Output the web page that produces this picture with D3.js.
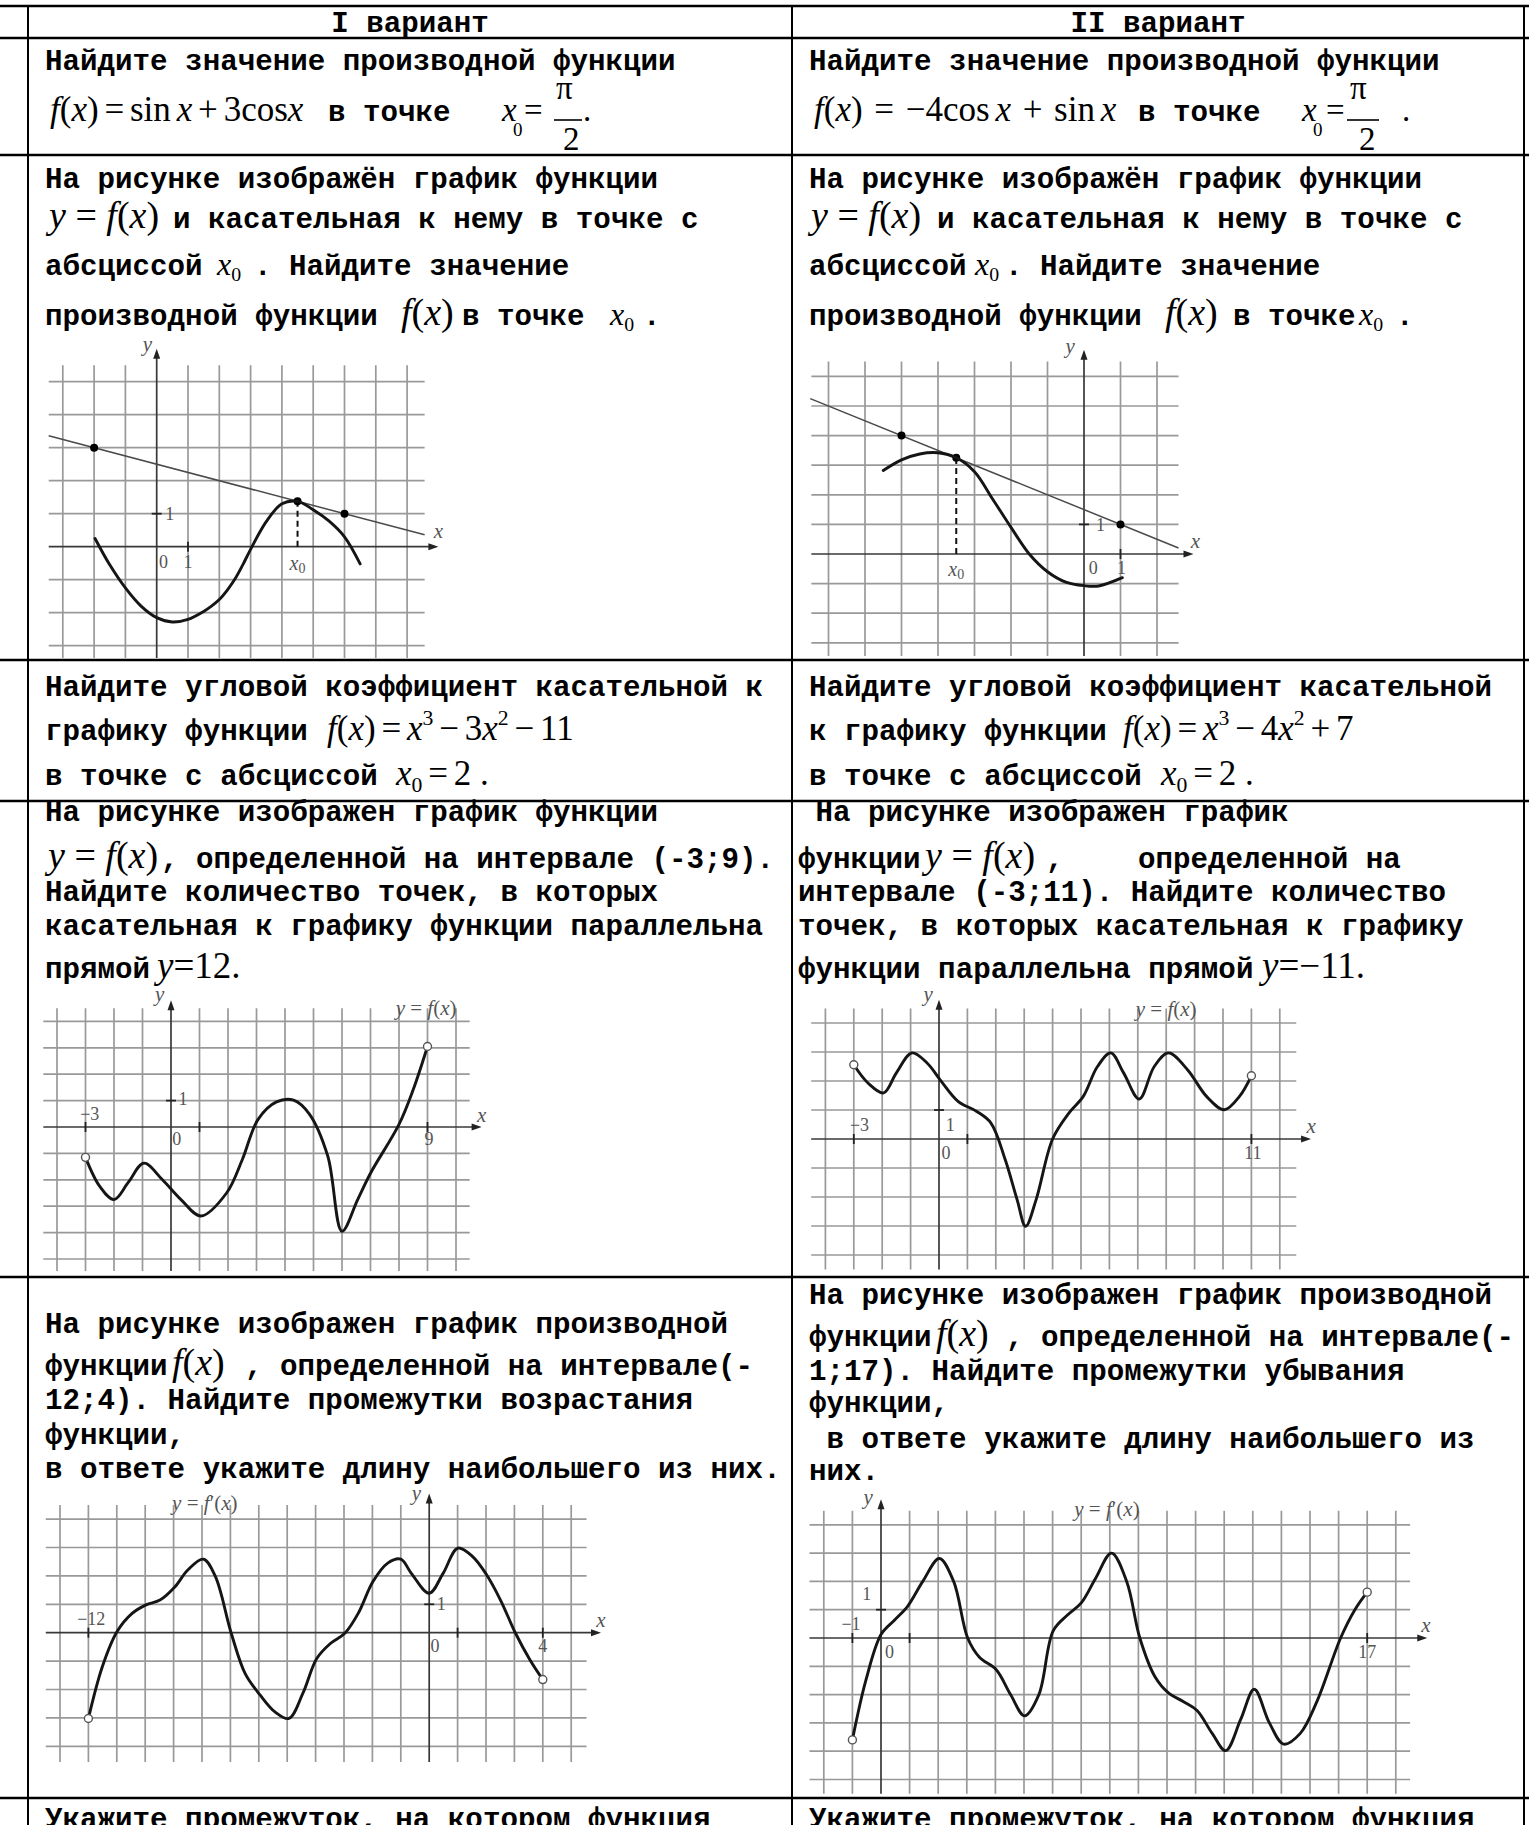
<!DOCTYPE html>
<html><head><meta charset="utf-8">
<script src="https://cdn.jsdelivr.net/npm/d3@7/dist/d3.min.js"></script>
<style>html,body{margin:0;padding:0;background:#fff;overflow:hidden}svg{display:block}</style>
</head><body>
<svg id="page" width="1529" height="1825" xmlns="http://www.w3.org/2000/svg"></svg>
<script>
// ================= DATA =================
const headers = ["I вариант", "II вариант"];

// Graph 1 (row 2, left): y = f(x) with tangent
const g1Curve = [[-1.97,0.25],[-1.5,-0.55],[-1,-1.25],[-0.5,-1.8],[0,-2.15],[0.5,-2.28],[1,-2.2],[1.5,-1.96],[1.75,-1.8],[2,-1.6],[2.25,-1.32],[2.5,-0.98],[2.75,-0.55],[3,-0.08],[3.5,0.76],[4,1.3],[4.5,1.375],[5,1.12],[5.5,0.78],[6,0.3],[6.5,-0.52]];
const g1TangentPts = [[-2,3],[6,1]];
const g1X0 = 4.5;
const g1Labels = [["y",-0.3,6.1],["x",9.0,0.45],["1",0.42,1.0],["0",0.22,-0.45],["1",1.0,-0.45],["x0",4.5,-0.48]];
const g1XTicks = [1], g1YTicks = [1];

// Graph 2 (row 2, right)
const g2Curve = [[-5.5,2.82],[-5,3.18],[-4.5,3.38],[-4,3.42],[-3.5,3.25],[-3,2.78],[-2.5,1.85],[-2,0.9],[-1.5,0.0],[-1,-0.6],[-0.5,-0.95],[0,-1.07],[0.4,-1.08],[1.05,-0.8]];
const g2TangentPts = [[-5,4],[1,1]];
const g2X0 = -3.5;
const g2Labels = [["y",-0.38,7.0],["x",3.05,0.42],["1",0.45,0.98],["0",0.25,-0.48],["1",1.03,-0.48],["x0",-3.5,-0.5]];
const g2XTicks = [1], g2YTicks = [1];

// Graph 3 (row 4, left): y = f(x) on (-3;9)
const g3Curve = [[-3,-1.15],[-2.5,-2.25],[-2,-2.75],[-1.5,-2.1],[-0.95,-1.37],[-0.3,-2.0],[0.35,-2.75],[1.05,-3.37],[1.95,-2.5],[2.5,-1.24],[3.05,0.28],[3.7,0.95],[4.3,1.02],[4.85,0.5],[5.5,-1.1],[6.0,-3.95],[6.55,-2.75],[7.0,-1.75],[8.0,0.1],[8.5,1.42],[9.0,3.05]];
const g3Open = [[-3,-1.15],[9,3.05]];
const g3Labels = [["y",-0.4,5.0],["x",10.9,0.42],["y = f(x)",8.95,4.5],["−3",-2.85,0.48],["0",0.2,-0.45],["9",9.05,-0.45],["1",0.42,1.05]];
const g3XTicks = [-3,1,9], g3YTicks = [1];

// Graph 4 (row 4, right): y = f(x) on (-3;11)
const g4Curve = [[-3,2.56],[-2.5,1.93],[-1.95,1.59],[-1.5,2.28],[-0.95,2.97],[-0.42,2.62],[0.08,1.99],[0.67,1.3],[1.33,0.95],[1.83,0.55],[2.33,-0.71],[2.75,-2.09],[3.05,-3.01],[3.42,-2.09],[4.0,0],[4.58,0.9],[5.08,1.47],[5.58,2.5],[6.05,2.97],[6.5,2.28],[7.05,1.38],[7.58,2.5],[8.08,2.97],[8.75,2.39],[9.42,1.47],[10.05,1.01],[10.58,1.47],[11,2.18]];
const g4Open = [[-3,2.56],[11,2.18]];
const g4Labels = [["y",-0.38,4.95],["x",13.1,0.42],["y = f(x)",8.0,4.5],["−3",-2.8,0.48],["1",0.4,0.48],["0",0.25,-0.48],["11",11.05,-0.48]];
const g4XTicks = [-3,1,11], g4YTicks = [1];

// Graph 5 (row 5, left): y = f'(x) on (-12;4)
const g5Curve = [[-12,-3.02],[-11.51,-1.2],[-10.99,0.04],[-10.46,0.68],[-9.97,0.98],[-9.48,1.15],[-8.95,1.62],[-8.5,2.21],[-7.95,2.59],[-7.53,1.98],[-6.97,-0.02],[-6.48,-1.44],[-5.95,-2.2],[-5.43,-2.79],[-4.94,-3.02],[-4.45,-2.14],[-3.96,-0.91],[-3.48,-0.38],[-2.97,-0.02],[-2.5,0.68],[-1.98,1.8],[-1.46,2.45],[-1.0,2.59],[-0.63,2.09],[0,1.39],[0.49,2.09],[1.01,2.98],[1.53,2.68],[2.02,2.04],[2.51,1.15],[3.04,-0.02],[3.55,-0.96],[4.0,-1.65]];
const g5Open = [[-12,-3.02],[4,-1.65]];
const g5Labels = [["y",-0.45,4.88],["x",6.05,0.42],["y = f′(x)",-7.9,4.55],["−12",-11.9,0.48],["0",0.2,-0.48],["4",4.0,-0.48],["1",0.42,1.0]];
const g5XTicks = [-12,1,4], g5YTicks = [1];

// Graph 6 (row 5, right): y = f'(x) on (-1;17)
const g6Curve = [[-1,-3.6],[-0.53,-1.5],[0,0.12],[0.46,0.62],[0.93,1.12],[1.46,2.0],[2.04,2.81],[2.54,2.0],[3.03,0],[3.45,-0.69],[4.03,-1.12],[4.53,-2.0],[5.02,-2.75],[5.52,-2.0],[6.02,0.25],[6.52,0.81],[7.01,1.25],[7.51,2.12],[8.06,3.0],[8.59,2.0],[9.05,0],[9.58,-1.37],[10.05,-1.94],[10.58,-2.25],[11.05,-2.56],[11.58,-3.37],[12.05,-3.98],[12.58,-2.87],[13.05,-1.81],[13.58,-3.0],[14.08,-3.75],[14.66,-3.37],[15.24,-2.25],[16.07,0],[16.57,1.0],[17,1.62]];
const g6Open = [[-1,-3.6],[17,1.62]];
const g6Labels = [["y",-0.45,4.95],["x",19.05,0.42],["y = f′(x)",7.9,4.55],["1",-0.5,1.55],["−1",-1.05,0.5],["0",0.3,-0.48],["17",17.0,-0.48]];
const g6XTicks = [-1,1,17], g6YTicks = [1];

// Formulas (text pieces: [text, style])  i = italic, ^ = superscript, _ = subscript
const T = "\u2006", S = " ", M3 = "\u2004";
const mR1L = [["f","i"],["(",""],["x","i"],[")",""],[T+"="+T,""],["sin",""],[T,""],["x","i"],[T+"+"+T,""],["3cos",""],["x","i"]];
const mR1R = [["f","i"],["(",""],["x","i"],[")",""],[M3+"="+M3,""],["−4cos",""],[T,""],["x","i"],[M3+"+"+M3,""],["sin",""],[T,""],["x","i"]];
const mYF  = [["y","i"],[S+"="+S,""],["f","i"],["(",""],["x","i"],[")",""]];
const mF   = [["f","i"],["(",""],["x","i"],[")",""]];
const mR3L = [["f","i"],["(",""],["x","i"],[")",""],[T+"="+T,""],["x","i"],["3","^"],[T+"−"+T,""],["3","" ],["x","i"],["2","^"],[T+"−"+T,""],["11",""]];
const mR3R = [["f","i"],["(",""],["x","i"],[")",""],[T+"="+T,""],["x","i"],["3","^"],[T+"−"+T,""],["4","" ],["x","i"],["2","^"],[T+"+"+T,""],["7",""]];
const mX0eq2 = [["x","i"],["0","_"],[T+"="+T,""],["2",""],[" .",""]];
const mY12  = [["y","i"],["=",""],["12",""],[".",""]];
const mYm11 = [["y","i"],["=",""],["−11",""],[".",""]];

// Text lines
const rowTexts = {
  r1: "Найдите значение производной функции",
  r1b: "в точке",
  r2a: "На рисунке изображён график функции",
  r2b: "и касательная к нему в точке с",
  r2c1: "абсциссой", r2c2: ". Найдите значение",
  r2d1: "производной функции", r2d2: "в точке", r2d3: ".",
  r3aL: "Найдите угловой коэффициент касательной к",
  r3aR: "Найдите угловой коэффициент касательной",
  r3bL: "графику функции", r3bR: "к графику функции",
  r3c: "в точке с абсциссой",
  r4L: ["На рисунке изображен график функции", ", определенной на интервале (-3;9).", "Найдите количество точек, в которых", "касательная к графику функции параллельна", "прямой"],
  r4R: [" На рисунке изображен график", "функции", ",", "определенной на", "интервале (-3;11). Найдите количество", "точек, в которых касательная к графику", "функции параллельна прямой"],
  r5L: ["На рисунке изображен график производной", "функции", ", определенной на интервале(-", "12;4). Найдите промежутки возрастания", "функции,", "в ответе укажите длину наибольшего из них."],
  r5R: ["На рисунке изображен график производной", "функции", ", определенной на интервале(-", "1;17). Найдите промежутки убывания", "функции,", " в ответе укажите длину наибольшего из", "них."],
  r6: "Укажите промежуток, на котором функция"
};

// ================= DRAWING =================
const svg = d3.select("#page");
const MONO = "'Liberation Mono','Courier New',monospace";
const SERIF = "'Liberation Serif','Times New Roman',serif";
const FS = 29.2, MS = 35, MB = 38;

function courier(x, y, s) {
  svg.append("text").attr("x", x).attr("y", y)
    .attr("font-family", MONO).attr("font-weight", "bold").attr("font-size", FS)
    .attr("fill", "#000").style("white-space", "pre").text(s);
}
function math(x, y, parts, size, parent, fill) {
  size = size || MS;
  const t = (parent || svg).append("text").attr("x", x).attr("y", y)
    .attr("font-family", SERIF).attr("font-size", size).attr("fill", fill || "#000")
    .style("white-space", "pre");
  let shift = 0;
  parts.forEach(([s, st]) => {
    let target = 0, fs = size;
    if (st.includes("^")) { target = -0.42 * size; fs = size * 0.62; }
    if (st.includes("_")) { target = 0.2 * size; fs = size * 0.62; }
    const ts = t.append("tspan").attr("font-size", fs)
      .attr("font-style", st.includes("i") ? "italic" : "normal").text(s);
    if (target !== shift) { ts.attr("dy", target - shift); shift = target; }
  });
  return t;
}
function xsub(x, y, size) {
  size = size || 32;
  math(x, y, [["x", "i"], ["0", "_"]], size);
}

// ---- table lines ----
const hLines = [6, 38, 155, 660, 801, 1277, 1798];
const vLines = [28, 792, 1524];
svg.append("g").selectAll("line").data(hLines).join("line")
  .attr("x1", 0).attr("x2", 1529).attr("y1", d => d).attr("y2", d => d)
  .attr("stroke", "#000").attr("stroke-width", 2.6);
svg.append("g").selectAll("line").data(vLines).join("line")
  .attr("x1", d => d).attr("x2", d => d).attr("y1", 5).attr("y2", 1825)
  .attr("stroke", "#000").attr("stroke-width", 2);

// ---- header ----
[410, 1158].forEach((cx, i) => {
  svg.append("text").attr("x", cx).attr("y", 32).attr("text-anchor", "middle")
    .attr("font-family", MONO).attr("font-weight", "bold").attr("font-size", FS).text(headers[i]);
});

// ---- row 1 ----
courier(45, 70, rowTexts.r1); courier(809, 70, rowTexts.r1);
math(50, 121, mR1L); courier(328, 121, rowTexts.r1b);
math(814, 121, mR1R); courier(1138, 121, rowTexts.r1b);
function fracPi(xx, xeq, xpi, xbar0, xbar1, x2, xdot) {
  math(xx, 121, [["x", "i"]], 33);
  math(xx + 11, 136, [["0", ""]], 19);
  math(xeq, 121, [["=", ""]], 33);
  math(xpi, 99, [["π", ""]], 33);
  svg.append("line").attr("x1", xbar0).attr("x2", xbar1).attr("y1", 120).attr("y2", 120)
    .attr("stroke", "#000").attr("stroke-width", 1.6);
  math(x2, 150, [["2", ""]], 33);
  math(xdot, 121, [[".", ""]], 33);
}
fracPi(502, 524, 556, 554, 582, 563, 583);
fracPi(1302, 1326, 1350, 1347, 1379, 1359, 1402);

// ---- row 2 ----
[[45, 49, 173, 217, 254, 401, 462, 610, 643], [809, 811, 937, 975, 1005, 1165, 1233, 1359, 1396]].forEach(p => {
  courier(p[0], 188, rowTexts.r2a);
  math(p[1], 228, mYF, MB); courier(p[2], 228, rowTexts.r2b);
  courier(p[0], 275, rowTexts.r2c1); xsub(p[3], 275); courier(p[4], 275, rowTexts.r2c2);
  courier(p[0], 325, rowTexts.r2d1); math(p[5], 325, mF, MB); courier(p[6], 325, rowTexts.r2d2);
  xsub(p[7], 325); courier(p[8], 325, rowTexts.r2d3);
});

// ---- row 3 ----
courier(45, 696, rowTexts.r3aL); courier(809, 696, rowTexts.r3aR);
courier(45, 740, rowTexts.r3bL); math(327, 740, mR3L);
courier(809, 740, rowTexts.r3bR); math(1123, 740, mR3R);
courier(45, 785, rowTexts.r3c); math(396, 785, mX0eq2);
courier(809, 785, rowTexts.r3c); math(1161, 785, mX0eq2);

// ---- row 4 ----
courier(45, 821, rowTexts.r4L[0]);
math(48, 868, mYF, MB); courier(161, 868, rowTexts.r4L[1]);
courier(45, 901, rowTexts.r4L[2]);
courier(45, 935, rowTexts.r4L[3]);
courier(45, 978, rowTexts.r4L[4]); math(157, 978, mY12, 37);
courier(798, 821, rowTexts.r4R[0]);
courier(798, 868, rowTexts.r4R[1]); math(925, 868, mYF, MB);
courier(1046, 868, rowTexts.r4R[2]); courier(1138, 868, rowTexts.r4R[3]);
courier(798, 901, rowTexts.r4R[4]);
courier(798, 935, rowTexts.r4R[5]);
courier(798, 978, rowTexts.r4R[6]); math(1262, 978, mYm11, 37);

// ---- row 5 ----
courier(45, 1333, rowTexts.r5L[0]);
courier(45, 1375, rowTexts.r5L[1]); math(172, 1375, mF, MB); courier(245, 1375, rowTexts.r5L[2]);
courier(45, 1409, rowTexts.r5L[3]);
courier(45, 1444, rowTexts.r5L[4]);
courier(45, 1478, rowTexts.r5L[5]);
courier(809, 1304, rowTexts.r5R[0]);
courier(809, 1346, rowTexts.r5R[1]); math(936, 1346, mF, MB); courier(1006, 1346, rowTexts.r5R[2]);
courier(809, 1380, rowTexts.r5R[3]);
courier(809, 1412, rowTexts.r5R[4]);
courier(809, 1448, rowTexts.r5R[5]);
courier(809, 1480, rowTexts.r5R[6]);

// ---- row 6 ----
courier(45, 1828, rowTexts.r6); courier(809, 1828, rowTexts.r6);

// ================= GRAPHS =================
const GRID = "#999", AXIS = "#383838", LBL = "#555";

function drawGraph(cfg, d) {
  const g = svg.append("g");
  const x = d3.scaleLinear().domain([0, 1]).range([cfg.ox, cfg.ox + cfg.ux]);
  const y = d3.scaleLinear().domain([0, 1]).range([cfg.oy, cfg.oy - cfg.uy]);
  // grid
  g.append("g").selectAll("line").data(d3.range(cfg.vx[0], cfg.vx[1] + 1).filter(v => v !== 0)).join("line")
    .attr("x1", v => x(v)).attr("x2", v => x(v)).attr("y1", y(cfg.vy[0])).attr("y2", y(cfg.vy[1]))
    .attr("stroke", GRID).attr("stroke-width", 1.7);
  g.append("g").selectAll("line").data(d3.range(cfg.hy[0], cfg.hy[1] + 1).filter(v => v !== 0)).join("line")
    .attr("y1", v => y(v)).attr("y2", v => y(v)).attr("x1", x(cfg.hx[0])).attr("x2", x(cfg.hx[1]))
    .attr("stroke", GRID).attr("stroke-width", 1.7);
  // axes
  g.append("line").attr("x1", x(cfg.hx[0])).attr("x2", x(cfg.axX) - 4).attr("y1", y(0)).attr("y2", y(0))
    .attr("stroke", AXIS).attr("stroke-width", 1.7);
  g.append("line").attr("x1", x(0)).attr("x2", x(0)).attr("y1", y(cfg.vy[0])).attr("y2", y(cfg.axY) + 4)
    .attr("stroke", AXIS).attr("stroke-width", 1.7);
  const ax = x(cfg.axX), ay = y(0);
  g.append("path").attr("d", `M${ax},${ay} L${ax - 10},${ay - 3.5} L${ax - 10},${ay + 3.5} Z`).attr("fill", "#222");
  const bx = x(0), by = y(cfg.axY);
  g.append("path").attr("d", `M${bx},${by} L${bx - 3.5},${by + 10} L${bx + 3.5},${by + 10} Z`).attr("fill", "#222");
  // ticks
  g.append("g").selectAll("line").data(d.xt).join("line")
    .attr("x1", v => x(v)).attr("x2", v => x(v)).attr("y1", y(0) - 5).attr("y2", y(0) + 5)
    .attr("stroke", "#222").attr("stroke-width", 1.8);
  g.append("g").selectAll("line").data(d.yt).join("line")
    .attr("y1", v => y(v)).attr("y2", v => y(v)).attr("x1", x(0) - 5).attr("x2", x(0) + 5)
    .attr("stroke", "#222").attr("stroke-width", 1.8);
  // tangent
  if (d.tan) {
    const [[ax1, ay1], [ax2, ay2]] = d.tan;
    const k = (ay2 - ay1) / (ax2 - ax1);
    const ly = t => ay1 + k * (t - ax1);
    g.append("line").attr("x1", x(cfg.tx[0])).attr("y1", y(ly(cfg.tx[0])))
      .attr("x2", x(cfg.tx[1])).attr("y2", y(ly(cfg.tx[1])))
      .attr("stroke", "#4a4a4a").attr("stroke-width", 1.5);
    const yt0 = ly(d.x0);
    g.append("line").attr("x1", x(d.x0)).attr("x2", x(d.x0)).attr("y1", y(0)).attr("y2", y(yt0))
      .attr("stroke", "#111").attr("stroke-width", 2).attr("stroke-dasharray", "6,4");
    g.append("g").selectAll("circle").data([...d.tan, [d.x0, yt0]]).join("circle")
      .attr("cx", p => x(p[0])).attr("cy", p => y(p[1])).attr("r", 4).attr("fill", "#000");
  }
  // curve
  g.append("path").datum(d.curve)
    .attr("d", d3.line().x(p => x(p[0])).y(p => y(p[1])).curve(d3.curveCatmullRom.alpha(0.5)))
    .attr("fill", "none").attr("stroke", "#151515").attr("stroke-width", 2.9)
    .attr("stroke-linejoin", "round").attr("stroke-linecap", "round");
  if (d.open) {
    g.append("g").selectAll("circle").data(d.open).join("circle")
      .attr("cx", p => x(p[0])).attr("cy", p => y(p[1])).attr("r", 4)
      .attr("fill", "#fff").attr("stroke", "#555").attr("stroke-width", 1.4);
  }
  // labels
  d.labels.forEach(([s, lx, ly]) => {
    const px = x(lx), py = y(ly);
    if (s === "x0") {
      const t = g.append("text").attr("x", px - 8).attr("y", py + 7).attr("font-family", SERIF)
        .attr("fill", LBL).attr("font-size", 20);
      t.append("tspan").attr("font-style", "italic").text("x");
      t.append("tspan").attr("font-size", 14).attr("dy", 3).text("0");
    } else if (s.includes("=")) {
      const parts = s.replace(/ /g, "").split("");
      const t = g.append("text").attr("x", px).attr("y", py + 7).attr("text-anchor", "middle")
        .attr("font-family", SERIF).attr("fill", LBL).attr("font-size", 21).style("white-space", "pre");
      parts.forEach(c => {
        const isVar = /[a-z]/.test(c);
        t.append("tspan").attr("font-style", isVar ? "italic" : "normal").text(c === "=" ? " = " : c);
      });
    } else if (s === "x" || s === "y") {
      g.append("text").attr("x", px).attr("y", py + 6).attr("text-anchor", "middle")
        .attr("font-family", SERIF).attr("font-style", "italic").attr("fill", LBL).attr("font-size", 21).text(s);
    } else {
      g.append("text").attr("x", px).attr("y", py + 6).attr("text-anchor", "middle")
        .attr("font-family", SERIF).attr("fill", LBL).attr("font-size", 18).text(s);
    }
  });
}

drawGraph({ox:156.7, oy:546.7, ux:31.3, uy:33.0, vx:[-3,8], vy:[-3.37,5.5], hy:[-3,5], hx:[-3.45,8.56], axX:9.0, axY:6.0, tx:[-3.45,8.56]},
  {curve:g1Curve, tan:g1TangentPts, x0:g1X0, labels:g1Labels, xt:g1XTicks, yt:g1YTicks});
drawGraph({ox:1084, oy:554, ux:36.5, uy:29.6, vx:[-7,2], vy:[-3.45,6.5], hy:[-3,6], hx:[-7.47,2.59], axX:3.0, axY:6.9, tx:[-7.5,2.59]},
  {curve:g2Curve, tan:g2TangentPts, x0:g2X0, labels:g2Labels, xt:g2XTicks, yt:g2YTicks});
drawGraph({ox:171, oy:1127, ux:28.5, uy:26.4, vx:[-4,10], vy:[-5.45,4.5], hy:[-5,4], hx:[-4.48,10.48], axX:10.9, axY:4.8},
  {curve:g3Curve, open:g3Open, labels:g3Labels, xt:g3XTicks, yt:g3YTicks});
drawGraph({ox:939, oy:1139, ux:28.4, uy:29.0, vx:[-4,12], vy:[-4.5,4.5], hy:[-4,4], hx:[-4.5,12.58], axX:13.1, axY:4.8},
  {curve:g4Curve, open:g4Open, labels:g4Labels, xt:g4XTicks, yt:g4YTicks});
drawGraph({ox:429.2, oy:1632.7, ux:28.4, uy:28.4, vx:[-13,5], vy:[-4.55,4.5], hy:[-4,4], hx:[-13.5,5.54], axX:6.05, axY:4.9},
  {curve:g5Curve, open:g5Open, labels:g5Labels, xt:g5XTicks, yt:g5YTicks});
drawGraph({ox:881, oy:1638, ux:28.6, uy:28.3, vx:[-2,18], vy:[-5.5,4.5], hy:[-5,4], hx:[-2.5,18.5], axX:19.1, axY:4.9},
  {curve:g6Curve, open:g6Open, labels:g6Labels, xt:g6XTicks, yt:g6YTicks});
</script>
</body></html>
